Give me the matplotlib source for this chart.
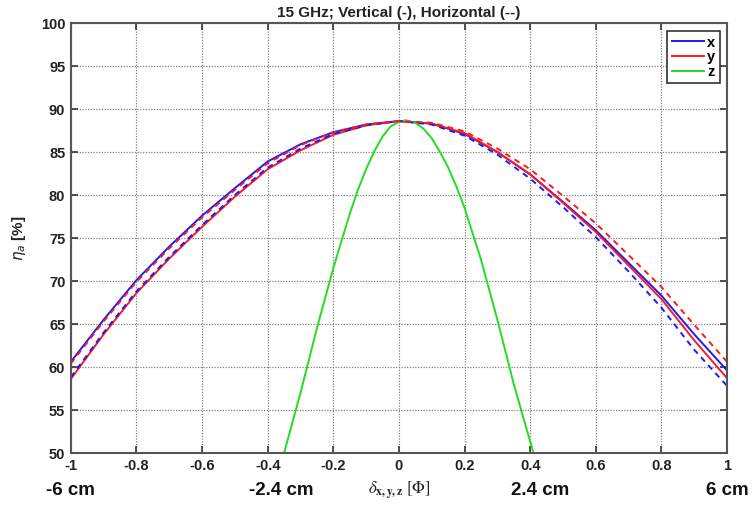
import matplotlib
matplotlib.use("Agg")
import matplotlib.pyplot as plt

plt.rcParams['font.family'] = ['Liberation Sans', 'DejaVu Sans']
plt.rcParams['mathtext.fontset'] = 'stix'

# offsets delta (same grid for the 4 broad curves)
delta = [-1.0, -0.9, -0.8, -0.7, -0.6, -0.5, -0.4, -0.3, -0.2, -0.1, 0.0,
         0.1, 0.2, 0.3, 0.4, 0.5, 0.6, 0.7, 0.8, 0.9, 1.0]
x_vert = [60.6, 65.5, 70.1, 74.0, 77.6, 80.8, 83.9, 85.9, 87.3, 88.2, 88.6,
          88.3, 87.1, 85.0, 82.4, 79.2, 75.9, 72.1, 68.3, 63.8, 59.6]
y_vert = [58.6, 63.8, 68.6, 72.6, 76.3, 79.8, 83.0, 85.2, 87.0, 88.1, 88.6,
          88.3, 87.2, 85.0, 82.4, 79.1, 75.7, 71.8, 67.9, 63.1, 58.7]
x_horz = [58.8, 64.0, 68.8, 72.8, 76.5, 80.0, 83.2, 85.4, 87.1, 88.1, 88.6,
          88.2, 86.9, 84.7, 81.9, 78.6, 75.1, 71.1, 66.9, 62.0, 57.8]
y_horz = [60.4, 65.3, 69.9, 73.8, 77.4, 80.6, 83.7, 85.8, 87.3, 88.2, 88.6,
          88.4, 87.4, 85.4, 83.0, 79.9, 76.7, 73.0, 69.3, 64.9, 60.6]

# z offset (much narrower)
delta_z = [-0.35, -0.30, -0.25, -0.20, -0.15, -0.125, -0.10, -0.075, -0.05, -0.025,
           0.0, 0.02, 0.05, 0.075, 0.10, 0.125, 0.15, 0.175, 0.20, 0.25, 0.30, 0.35, 0.41]
z_eff = [50.0, 57.0, 64.5, 71.5, 77.8, 80.6, 83.0, 85.1, 86.8, 88.0,
         88.5, 88.7, 88.4, 87.7, 86.6, 85.0, 83.2, 81.0, 78.5, 72.5, 65.5, 58.0, 50.0]

cm_pos = [-1.0, -0.36, 0.43, 1.0]
cm_lbl = ["-6 cm", "-2.4 cm", "2.4 cm", "6 cm"]

BLUE = "#1a1aff"; RED = "#ff1a1a"; GREEN = "#22dd22"

fig = plt.figure(figsize=(7.55, 5.07), dpi=100)
ax = fig.add_axes([0.0938, 0.1065, 0.8692, 0.8481])

lw = 1.4
ax.plot(delta, x_vert, color=BLUE, lw=lw, label="x")
ax.plot(delta, y_vert, color=RED, lw=lw, label="y")
ax.plot(delta_z, z_eff, color=GREEN, lw=lw, label="z")
ax.plot(delta, x_horz, color=BLUE, lw=lw, ls=(0, (3, 2.5)))
ax.plot(delta, y_horz, color=RED, lw=lw, ls=(0, (3, 2.5)))

ax.set_xlim(-1, 1)
ax.set_ylim(50, 100)
ax.set_xticks([-1, -0.8, -0.6, -0.4, -0.2, 0, 0.2, 0.4, 0.6, 0.8, 1])
ax.set_xticklabels(["-1", "-0.8", "-0.6", "-0.4", "-0.2", "0", "0.2", "0.4", "0.6", "0.8", "1"])
ax.set_yticks(range(50, 101, 5))
ax.grid(True, color="#808080", ls=(0, (1, 1.2)), lw=0.9)
ax.tick_params(direction="in", top=True, right=True, length=5, width=1.2,
               colors="#333333", labelsize=10.5, pad=4)
for lab in ax.get_xticklabels() + ax.get_yticklabels():
    lab.set_fontweight("bold")
    lab.set_color("#222222")
for s in ax.spines.values():
    s.set_linewidth(1.5)
    s.set_color("#555555")

ax.set_title("15 GHz; Vertical (-), Horizontal (--)", fontsize=11, fontweight="bold",
             color="#222222", pad=4)
ax.set_ylabel(r"$\eta_a$ [%]", fontsize=11, fontweight="bold", color="#222222",
              labelpad=9, math_fontfamily="dejavusans")
ax.text(0.0, -0.088, r"$\delta_{\mathbf{x,y,z}}\ [\Phi]$", transform=ax.get_xaxis_transform(),
        ha="center", va="center", fontsize=12, color="#222222")
for p, t in zip(cm_pos, cm_lbl):
    ax.text(p, -0.088, t, transform=ax.get_xaxis_transform(), ha="center", va="center",
            fontsize=13.5, fontweight="bold", color="#111111")

leg = ax.legend(loc="upper right", bbox_to_anchor=(0.989, 0.981), borderaxespad=0,
                fontsize=10.5, handlelength=2.2, handletextpad=0.25, labelspacing=0.05,
                borderpad=0.3, fancybox=False, framealpha=1)
leg.get_frame().set_edgecolor("#333333")
leg.get_frame().set_linewidth(1.2)
for t in leg.get_texts():
    t.set_fontweight("bold")

fig.savefig("out.png", dpi=100)
